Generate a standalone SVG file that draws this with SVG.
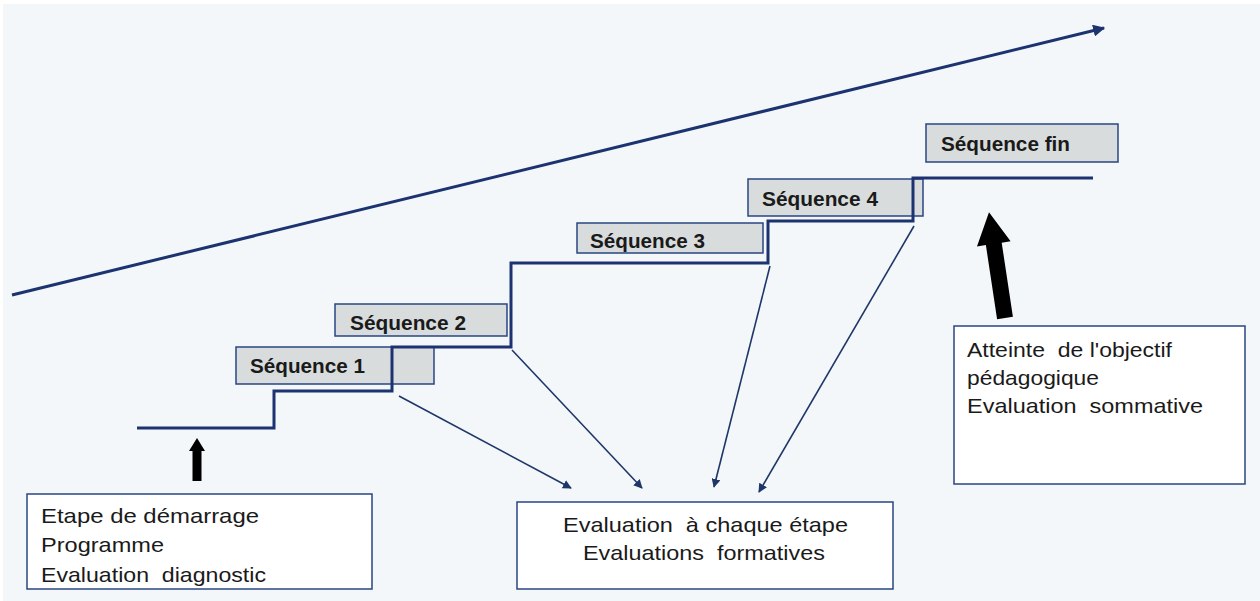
<svg xmlns="http://www.w3.org/2000/svg" width="1260" height="601" viewBox="0 0 1260 601">
<defs>
<style>
.bg{fill:#f3f7fa}
.seq rect{fill:#d9dcdd;stroke:#2a4583;stroke-width:1.5}
.seq text{font-family:"Liberation Sans",Arial,sans-serif;font-weight:bold;font-size:19.5px;fill:#1a1a1a}
.box rect{fill:#ffffff;stroke:#2a4583;stroke-width:1.5}
.box text{font-family:"Liberation Sans",Arial,sans-serif;font-size:21px;fill:#1a1a1a;white-space:pre}
.stair{fill:none;stroke:#1c3370;stroke-width:3}
.thin{fill:none;stroke:#1f3768;stroke-width:1.6;marker-end:url(#ah)}
.blk{fill:#000}
</style>
<marker id="ah" viewBox="0 0 10 10" refX="9" refY="5" markerWidth="9" markerHeight="9" markerUnits="userSpaceOnUse" orient="auto">
<path d="M0,0 L10,5 L0,10 z" fill="#1f3768"/>
</marker>
<marker id="ah2" viewBox="0 0 10 10" refX="9" refY="5" markerWidth="4" markerHeight="4" orient="auto">
<path d="M0,0 L10,5 L0,10 z" fill="#1c3370"/>
</marker>
</defs>
<rect class="bg" x="3" y="4" width="1257" height="597"/>

<g id="progression">
<line x1="12" y1="295" x2="1104" y2="28" stroke="#1c3370" stroke-width="3" marker-end="url(#ah2)"/>
</g>

<g id="seq1" class="seq">
<rect x="236" y="347" width="198" height="37"/>
<text x="250" y="373" textLength="115" lengthAdjust="spacingAndGlyphs">Séquence 1</text>
</g>
<g id="seq2" class="seq">
<rect x="335" y="304" width="172" height="32"/>
<text x="350" y="330" textLength="116" lengthAdjust="spacingAndGlyphs">Séquence 2</text>
</g>
<g id="seq3" class="seq">
<rect x="577" y="223" width="186" height="30"/>
<text x="590" y="248" textLength="115" lengthAdjust="spacingAndGlyphs">Séquence 3</text>
</g>
<g id="seq4" class="seq">
<rect x="748" y="179" width="175" height="37"/>
<text x="762" y="206" textLength="116" lengthAdjust="spacingAndGlyphs">Séquence 4</text>
</g>
<g id="seqfin" class="seq">
<rect x="926" y="124" width="192" height="38"/>
<text x="941" y="151" textLength="129" lengthAdjust="spacingAndGlyphs">Séquence fin</text>
</g>

<g id="staircase">
<polyline class="stair" points="137,428 274,428 274,391 392,391 392,347 511,347 511,263 768,263 768,221 913,221 913,178 1093,178"/>
</g>

<g id="connectors">
<line class="thin" x1="399" y1="396" x2="571" y2="488"/>
<line class="thin" x1="512" y1="350" x2="642" y2="488"/>
<line class="thin" x1="770" y1="266" x2="714" y2="487"/>
<line class="thin" x1="914" y1="226" x2="759" y2="492"/>
<polygon class="blk" points="197,438 205,451 201.5,451 201.5,481 192.5,481 192.5,451 189,451"/>
<polygon class="blk" transform="translate(1005,318) rotate(-8.6)" points="0,-107 17,-75 8,-75 8,0 -8,0 -8,-75 -17,-75"/>
</g>

<g id="start" class="box">
<rect x="27" y="494" width="345" height="95"/>
<text x="41" y="523" textLength="218" lengthAdjust="spacingAndGlyphs">Etape de démarrage</text>
<text x="41" y="552" textLength="123" lengthAdjust="spacingAndGlyphs">Programme</text>
<text x="41" y="582" textLength="225" lengthAdjust="spacingAndGlyphs">Evaluation  diagnostic</text>
</g>

<g id="formative" class="box">
<rect x="517" y="502" width="376" height="87"/>
<text x="563" y="532" textLength="285" lengthAdjust="spacingAndGlyphs">Evaluation  à chaque étape</text>
<text x="583" y="560" textLength="242" lengthAdjust="spacingAndGlyphs">Evaluations  formatives</text>
</g>

<g id="summative" class="box">
<rect x="954" y="326" width="291" height="158"/>
<text x="967" y="357" textLength="205" lengthAdjust="spacingAndGlyphs">Atteinte  de l'objectif</text>
<text x="967" y="385" textLength="132" lengthAdjust="spacingAndGlyphs">pédagogique</text>
<text x="967" y="413" textLength="236" lengthAdjust="spacingAndGlyphs">Evaluation  sommative</text>
</g>
</svg>
